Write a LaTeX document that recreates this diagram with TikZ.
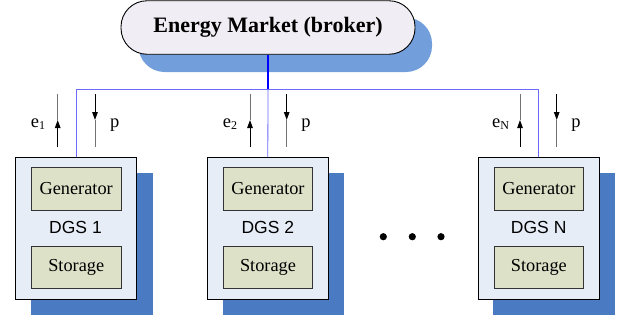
\documentclass[tikz,border=0pt]{standalone}
\usepackage{fontspec}
\setmainfont{Liberation Serif}
\setsansfont{Liberation Sans}
\usetikzlibrary{arrows.meta}
\definecolor{mktfill}{HTML}{F0EEF4}
\definecolor{mktshadow}{HTML}{729FDB}
\definecolor{boxfill}{HTML}{E7EDF7}
\definecolor{boxshadow}{HTML}{4A7BC2}
\definecolor{innerfill}{HTML}{DDE1C8}
\definecolor{wireblue}{HTML}{0000FF}
\definecolor{thinblue}{HTML}{6A6AFF}
\begin{document}
\begin{tikzpicture}[x=1pt,y=-1pt,
  market/.style={draw=black, line width=0.9pt, fill=mktfill, rounded corners=26pt,
    minimum width=294pt, minimum height=53.5pt, inner sep=0pt,
    font=\fontsize{22}{24}\selectfont\bfseries},
  dgsbox/.style={draw=black, line width=0.8pt, fill=boxfill,
    minimum width=121.4pt, minimum height=141.7pt, inner sep=0pt},
  partbox/.style={draw=black!80, line width=0.8pt, fill=innerfill,
    minimum width=89.7pt, minimum height=42.3pt, inner sep=0pt,
    font=\fontsize{18.3}{20}\selectfont},
  dgslabel/.style={font=\sffamily\fontsize{17.5}{19}\selectfont, inner sep=0pt},
  flowlabel/.style={font=\fontsize{18.5}{20}\selectfont, inner sep=0pt, anchor=base},
  busmain/.style={draw=wireblue, line width=1.3pt},
  bus/.style={draw=thinblue, line width=0.8pt},
  guide/.style={draw=black!55, line width=0.5pt},
  flow/.style={draw=black, line width=1pt, -{Triangle[length=8pt,width=5.5pt]}},
  dotmark/.style={fill=black}
]
\useasboundingbox (0,0) rectangle (621,322);
\newcommand{\sub}[1]{\raisebox{-2pt}{\fontsize{12}{12}\selectfont #1}}

% market
\fill[mktshadow, rounded corners=26pt] (138.5,17.5) rectangle (432,72);
\node[market] (mkt) at (268,27.5) {Energy Market (broker)};

% DGS shadows
\fill[boxshadow] (31,172.7) rectangle (152.7,315);
\fill[boxshadow] (222.7,172.7) rectangle (344.3,315);
\fill[boxshadow] (493.3,172.7) rectangle (615.3,315);

% DGS boxes
\node[dgsbox] (dgs1) at (76,228.2) {};
\node[dgsbox] (dgs2) at (267.8,228.2) {};
\node[dgsbox] (dgsN) at (538.7,228.2) {};

\node[partbox] (gen1) at (76.2,188.9) {Generator};
\node[partbox] (sto1) at (76.2,267.7) {Storage};
\node[dgslabel] (lab1) at (75.5,227.5) {DGS 1};
\node[partbox] (gen2) at (268,188.9) {Generator};
\node[partbox] (sto2) at (268,267.7) {Storage};
\node[dgslabel] (lab2) at (267.8,227.5) {DGS 2};
\node[partbox] (genN) at (538.9,188.9) {Generator};
\node[partbox] (stoN) at (538.9,267.7) {Storage};
\node[dgslabel] (labN) at (538.7,227.5) {DGS N};

% bus
\coordinate (bus1) at (76,89);
\coordinate (bus2) at (268,89);
\coordinate (busN) at (538.7,89);
\draw[bus] (bus1) -- (busN);
\draw[bus] (bus1) -- (dgs1.north);
\draw[bus] (bus2) -- (dgs2.north);
\draw[bus] (busN) -- (dgsN.north);
\draw[busmain] (mkt.south) -- (bus2);

% flow arrows
\foreach \n/\ex/\px in {1/57.7/95, 2/250/286.7, N/520/556.7}{
  \coordinate (e\n b) at (\ex,147);
  \coordinate (e\n m) at (\ex,120);
  \coordinate (e\n t) at (\ex,94);
  \coordinate (p\n t) at (\px,94);
  \coordinate (p\n m) at (\px,120);
  \coordinate (p\n b) at (\px,147);
  \draw[guide] (e\n t) -- (e\n m);
  \draw[flow] (e\n b) -- (e\n m);
  \draw[guide] (p\n m) -- (p\n b);
  \draw[flow] (p\n t) -- (p\n m);
}
\node[flowlabel] (le1) at (38,127) {e\sub{1}};
\node[flowlabel] (le2) at (230,127) {e\sub{2}};
\node[flowlabel] (leN) at (500.5,127) {e\sub{N}};
\node[flowlabel] (lp1) at (114.7,127) {p};
\node[flowlabel] (lp2) at (306,127) {p};
\node[flowlabel] (lpN) at (576,127) {p};

% dots
\fill[dotmark] (383.3,236.7) circle (3.6pt);
\fill[dotmark] (412.3,236.7) circle (3.6pt);
\fill[dotmark] (441,236.7) circle (3.6pt);
\end{tikzpicture}
\end{document}
